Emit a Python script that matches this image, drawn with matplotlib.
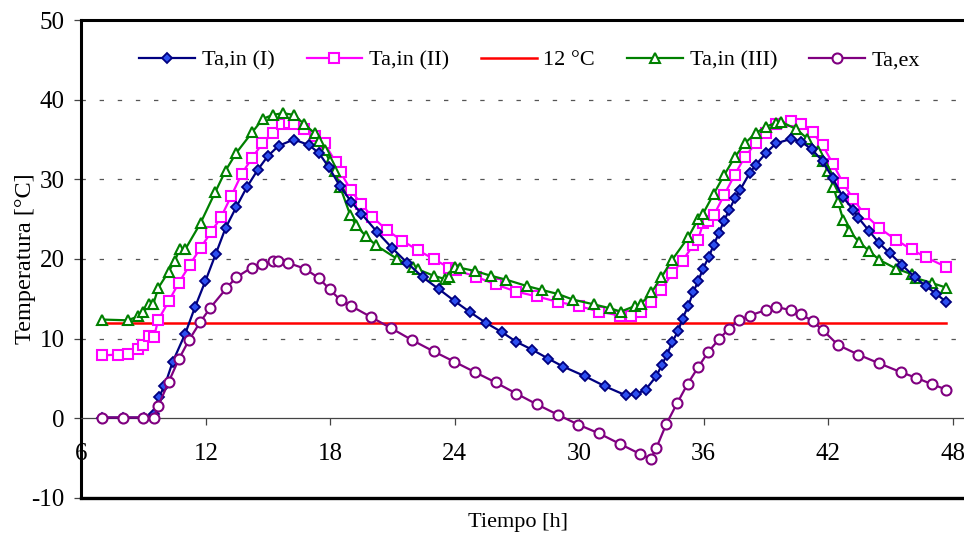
import matplotlib
matplotlib.use("Agg")
import matplotlib.pyplot as plt
from matplotlib.lines import Line2D

# ---------------- data ----------------
x_I = [7.0, 8.0, 9.0, 9.5, 9.73, 10.0, 10.4, 11.0, 11.48, 11.97, 12.47, 12.95, 13.46, 13.97,
       14.5, 14.98, 15.5, 16.24, 16.97, 17.45, 17.93, 18.45, 19.0, 19.49, 20.25, 20.97, 21.71, 22.46,
       23.24, 24.0, 24.75, 25.49, 26.28, 26.97, 27.74, 28.5, 29.22, 30.26, 31.26, 32.23, 32.72, 33.2,
       33.72, 33.97, 34.23, 34.49, 34.77, 34.98, 35.25, 35.49, 35.73, 35.97, 36.25, 36.49, 36.74,
       36.98, 37.22, 37.5, 37.74, 38.22, 38.51, 39.0, 39.48, 40.23, 40.71, 41.2, 41.73, 42.21, 42.7,
       43.21, 43.45, 43.98, 44.46, 44.98, 45.54, 46.18, 46.71, 47.22, 47.7]
y_I = [0.1, 0.1, 0.1, 0.6, 2.7, 4.0, 7.1, 10.6, 14.0, 17.2, 20.6, 23.9, 26.5, 29.0,
       31.2, 32.9, 34.2, 35.0, 34.3, 33.3, 31.5, 29.2, 27.2, 25.7, 23.4, 21.4, 19.5, 17.7,
       16.2, 14.7, 13.3, 12.0, 10.8, 9.6, 8.6, 7.5, 6.5, 5.3, 4.0, 2.9, 3.0, 3.6,
       5.3, 6.65, 8.0, 9.6, 11.0, 12.5, 14.1, 15.8, 17.2, 18.8, 20.3, 21.8, 23.3,
       24.8, 26.1, 27.6, 28.6, 30.8, 31.8, 33.3, 34.5, 35.1, 34.7, 33.8, 32.3, 30.2, 27.8,
       26.2, 25.2, 23.5, 22.0, 20.7, 19.3, 17.7, 16.6, 15.6, 14.6]

x_II = [7.0, 7.75, 8.24, 8.72, 8.96, 9.25, 9.49, 9.71, 10.21, 10.69, 11.21, 11.74, 12.26, 12.74,
        13.22, 13.73, 14.23, 14.72, 15.23, 15.68, 16.0, 16.24, 16.71, 17.24, 17.72, 18.25, 18.49,
        19.0, 19.49, 20.02, 20.73, 21.47, 22.22, 22.98, 23.72, 24.07, 25.0, 25.97, 26.97, 27.96,
        28.98, 29.97, 30.96, 31.95, 32.5, 32.99, 33.48, 33.96, 34.48, 34.98, 35.49, 35.73, 35.97,
        36.21, 36.49, 36.98, 37.5, 37.98, 38.5, 39.0, 39.48, 40.23, 40.71, 41.25, 41.73, 42.24,
        42.73, 43.21, 43.73, 44.46, 45.27, 46.02, 46.71, 47.7]
y_II = [7.9, 8.0, 8.1, 8.7, 9.2, 10.3, 10.2, 12.4, 14.7, 17.0, 19.2, 21.4, 23.4, 25.3,
        27.9, 30.7, 32.7, 34.5, 35.8, 36.9, 37.1, 37.0, 36.3, 35.5, 34.5, 32.2, 30.9,
        28.6, 26.9, 25.3, 23.6, 22.3, 21.1, 20.0, 18.9, 18.6, 17.8, 16.8, 15.9, 15.3,
        14.6, 14.1, 13.4, 12.9, 12.9, 13.4, 14.6, 16.1, 18.2, 19.8, 21.7, 22.4, 24.5,
        24.8, 25.5, 28.0, 30.6, 32.8, 34.5, 35.8, 37.0, 37.3, 36.9, 35.9, 34.3, 31.9,
        29.5, 27.5, 25.7, 23.9, 22.4, 21.2, 20.2, 19.0]

x_III = [7.0, 8.24, 8.72, 8.99, 9.28, 9.47, 9.71, 10.2, 10.49, 10.73, 11.0, 11.74, 12.45, 12.95,
         13.46, 14.23, 14.75, 15.23, 15.71, 16.23, 16.71, 17.24, 17.45, 17.72, 17.96, 18.2, 18.48,
         18.96, 19.22, 19.7, 20.21, 21.23, 21.98, 22.22, 22.98, 23.51, 23.72, 23.99, 24.23, 24.97,
         25.73, 26.48, 27.48, 28.22, 28.98, 29.7, 30.71, 31.5, 32.0, 32.69, 32.99, 33.48, 33.96,
         34.48, 35.25, 35.73, 35.97, 36.49, 36.98, 37.5, 37.98, 38.5, 39.0, 39.48, 39.75, 40.47,
         41.0, 41.49, 41.73, 42.0, 42.24, 42.48, 42.73, 43.02, 43.5, 43.98, 44.46, 45.27, 46.02,
         46.23, 46.99, 47.7]
y_III = [12.4, 12.3, 12.8, 13.3, 14.4, 14.4, 16.4, 18.4, 19.7, 21.2, 21.2, 24.5, 28.4, 31.1,
         33.3, 35.9, 37.6, 38.1, 38.3, 38.1, 37.0, 35.8, 34.8, 33.7, 32.3, 31.1, 29.0,
         25.5, 24.3, 22.9, 21.7, 20.0, 19.0, 18.7, 17.9, 17.5, 17.8, 19.0, 18.9, 18.5,
         17.9, 17.4, 16.6, 16.1, 15.6, 14.9, 14.3, 13.8, 13.4, 14.1, 14.4, 15.8, 17.7,
         19.9, 22.7, 25.0, 25.7, 28.2, 30.5, 32.8, 34.5, 35.8, 36.6, 37.1, 37.2, 36.3,
         35.1, 33.5, 32.3, 31.0, 29.1, 27.1, 24.9, 23.5, 22.1, 21.0, 19.9, 18.8, 18.1,
         17.6, 17.0, 16.4]

x_ex = [7.0, 8.0, 8.96, 9.49, 9.71, 10.21, 10.69, 11.18, 11.73, 12.22, 12.98, 13.46, 14.2, 14.72,
        15.23, 15.47, 15.97, 16.76, 17.45, 17.96, 18.5, 19.0, 19.97, 20.94, 21.95, 22.98, 23.98,
        24.97, 25.97, 26.97, 27.96, 28.96, 29.96, 30.96, 31.95, 32.95, 33.45, 33.72, 34.2, 34.72,
        35.22, 35.73, 36.21, 36.73, 37.22, 37.7, 38.22, 39.0, 39.48, 40.23, 40.71, 41.25, 41.73,
        42.48, 43.45, 44.46, 45.5, 46.23, 46.99, 47.7]
y_ex = [0.1, 0.1, 0.1, 0.1, 1.6, 4.6, 7.4, 9.8, 12.1, 13.9, 16.3, 17.7, 18.9, 19.4,
        19.7, 19.8, 19.5, 18.8, 17.6, 16.2, 14.8, 14.1, 12.7, 11.3, 9.8, 8.4, 7.1,
        5.8, 4.5, 3.1, 1.75, 0.46, -0.8, -1.9, -3.2, -4.5, -5.1, -3.7, -0.7, 1.9,
        4.3, 6.4, 8.3, 9.9, 11.25, 12.3, 12.9, 13.6, 14.0, 13.55, 13.05, 12.2, 11.1,
        9.2, 8.0, 6.9, 5.8, 5.1, 4.3, 3.6]

x_ref = [7.0, 47.7]
y_ref = [12, 12]

labels = ["Ta,in (I)", "Ta,in (II)", "12 °C", "Ta,in (III)", "Ta,ex"]
x_ticks = [6, 12, 18, 24, 30, 36, 42, 48]
y_ticks = [-10, 0, 10, 20, 30, 40, 50]

# ---------------- figure ----------------
plt.rcParams['font.family'] = ['Liberation Serif', 'DejaVu Serif']
plt.rcParams['axes.unicode_minus'] = False
fig = plt.figure(figsize=(9.64, 5.35), dpi=100)
ax = fig.add_axes([0.0845, 0.0692, 0.9155, 0.8934])

ax.set_xlim(6, 48.55)
ax.set_ylim(-10, 50)

# grid lines
for v in [10, 20, 30, 40]:
    ax.axhline(v, color='#555555', lw=0.9, linestyle=(0, (3.5, 11)), zorder=1)

lw = 1.6
ax.plot(x_I, y_I, color='#000080', lw=lw, marker='D', markersize=5.2,
        markerfacecolor='#2c4ff0', markeredgecolor='#000080', markeredgewidth=1.3,
        label=labels[0], zorder=4)
ax.plot(x_II, y_II, color='#ff00ff', lw=lw, marker='s', markersize=7.2,
        markerfacecolor='white', markeredgecolor='#ff00ff', markeredgewidth=1.5,
        label=labels[1], zorder=3)
ax.plot(x_ref, y_ref, color='#ff0000', lw=1.8, label=labels[2], zorder=2)
ax.plot(x_III, y_III, color='#008000', lw=lw, marker='^', markersize=7.5,
        markerfacecolor='white', markeredgecolor='#008000', markeredgewidth=1.5,
        label=labels[3], zorder=3)
ax.plot(x_ex, y_ex, color='#800080', lw=lw, marker='o', markersize=7.2,
        markerfacecolor='white', markeredgecolor='#800080', markeredgewidth=1.5,
        label=labels[4], zorder=5)

# spines / axes
ax.spines['bottom'].set_position(('data', 0))
ax.spines['bottom'].set_color('#444444')
ax.spines['bottom'].set_linewidth(0.9)
ax.spines['left'].set_linewidth(2.2)
ax.spines['top'].set_linewidth(2.2)
ax.spines['right'].set_visible(False)
ax.add_line(Line2D([0, 1], [0, 0], transform=ax.transAxes, color='black', lw=2.4, clip_on=False))

ax.set_xticks(x_ticks)
ax.set_yticks(y_ticks)
ax.tick_params(axis='x', direction='out', length=5, width=0.9, color='#444444',
               pad=13, labelsize=18)
ax.tick_params(axis='y', direction='out', length=5, width=0.9, color='#444444',
               pad=7, labelsize=18)

ax.set_ylabel("Temperatura [°C]", fontsize=17.5, labelpad=-3)
fig.text(0.537, 0.024, "Tiempo [h]", fontsize=16, ha='center', va='center')

leg = ax.legend(loc='center', bbox_to_anchor=(0.508, 0.916), ncol=5, frameon=False,
                fontsize=16, handlelength=2.5, handletextpad=0.3, columnspacing=1.45,
                borderaxespad=0)

fig.savefig("out.png", dpi=100)
